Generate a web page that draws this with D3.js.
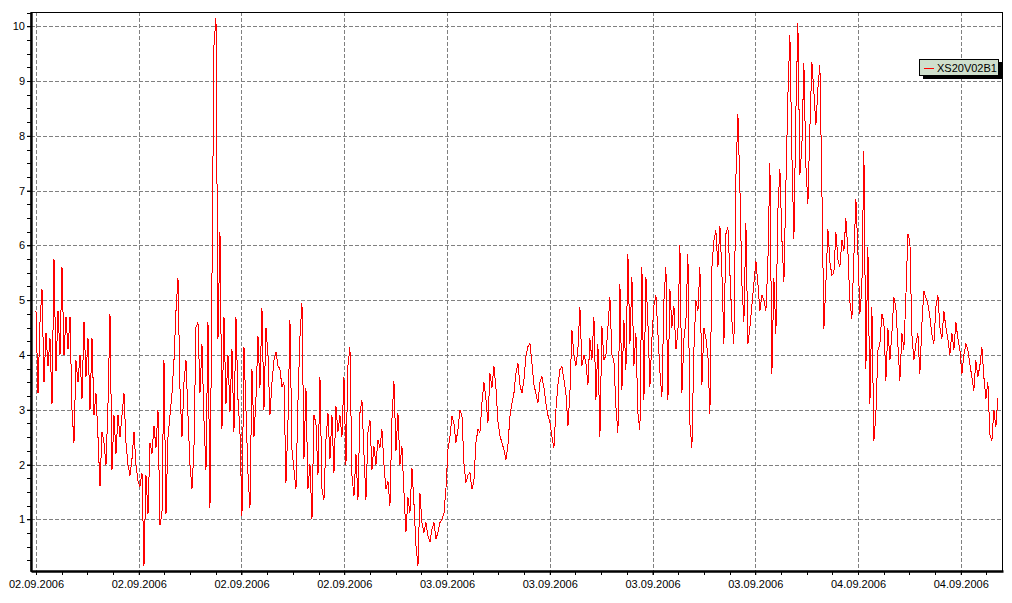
<!DOCTYPE html>
<html>
<head>
<meta charset="utf-8">
<script src="https://d3js.org/d3.v7.min.js"></script>
<style>
  body { margin: 0; background: #fff; }
  svg { display: block; font-family: "Liberation Sans", Arial, sans-serif; }
</style>
</head>
<body>
<script>
(function () {
  "use strict";

  // series, one sample every ~7 minutes
  var seriesName = "XS20V02B1";
  var seriesValues = [
    4.8, 3.3, 4.6, 5.2, 3.5, 4.4, 3.8, 4.3, 3.1, 5.75,
    3.7, 4.8, 4.0, 5.6, 4.0, 4.7, 4.1, 4.7, 3.0, 2.4,
    3.9, 3.5, 4.0, 3.2, 4.6, 3.6, 4.3, 3.0, 4.3, 2.9,
    3.3, 2.5, 1.6, 2.6, 2.4, 2.0, 3.1, 4.75, 1.9, 2.9,
    2.2, 2.9, 2.5, 2.9, 3.3, 2.4, 2.0, 1.8, 2.1, 2.6,
    2.0, 1.7, 1.6, 1.85, 0.15, 1.8, 1.1, 2.4, 2.2, 2.7,
    2.3, 3.0, 0.9, 1.1, 3.9, 1.1, 2.5, 2.9, 3.3, 3.9,
    4.8, 5.4, 3.4, 2.5, 3.5, 3.9, 2.9, 2.0, 1.55, 2.3,
    4.5, 4.6, 3.3, 4.2, 2.8, 1.9, 4.6, 1.2, 5.4, 9.65,
    10.15, 4.3, 6.25, 2.65, 4.7, 3.1, 4.0, 2.95, 4.1, 2.6,
    4.7, 3.2, 2.6, 1.06, 4.15, 3.0, 1.85, 1.2, 3.75, 2.5,
    3.2, 4.35, 3.4, 4.85, 3.0, 4.5, 4.0, 2.9, 3.5, 3.9,
    4.05, 3.8, 3.74, 3.42, 3.5, 1.67, 2.76, 4.64, 2.27, 1.9,
    1.55, 3.15, 4.33, 4.94, 2.1, 3.4, 1.55, 2.0, 1.0, 2.9,
    2.75, 1.8, 3.6, 1.55, 1.36, 2.45, 2.94, 2.1, 2.9, 1.85,
    3.06, 2.6, 2.9, 2.5, 3.6, 2.0, 3.8, 4.15, 1.8, 1.42,
    2.2, 1.36, 2.94, 3.18, 2.2, 1.36, 2.58, 2.82, 1.9, 2.33,
    2.0, 2.45, 2.3, 2.64, 2.0, 1.55, 1.7, 1.24, 2.82, 3.52,
    2.25, 2.94, 2.0, 2.33, 1.5, 0.76, 1.4, 1.12, 1.94, 1.3,
    0.52, 0.15, 1.48, 0.94, 0.76, 0.94, 0.7, 0.58, 0.82, 0.94,
    0.64, 0.76, 0.94, 1.0, 1.1, 1.55, 2.27, 2.5, 2.88, 2.76,
    2.4, 2.64, 3.0, 2.9, 2.03, 1.67, 1.8, 1.85, 1.55, 1.7,
    2.4, 2.64, 2.58, 3.12, 3.5, 3.2, 2.76, 3.67, 3.4, 3.79,
    3.4, 2.79, 2.52, 2.4, 2.27, 2.09, 2.35, 2.88, 3.12, 3.3,
    3.67, 3.85, 3.45, 3.3, 3.55, 3.97, 4.15, 4.21, 3.85, 3.45,
    3.3, 3.12, 3.5, 3.6, 3.4, 3.12, 2.9, 2.76, 2.52, 2.3,
    3.0, 3.45, 3.73, 3.79, 3.55, 3.3, 2.7, 3.3, 4.45, 4.0,
    3.8, 4.1, 4.88, 3.8, 4.0, 3.85, 3.45, 4.3, 3.9, 4.7,
    3.18, 4.2, 2.5, 4.52, 3.9, 4.0, 4.5, 5.06, 4.0, 3.9,
    3.05, 2.57, 5.3, 3.36, 4.63, 3.72, 5.84, 4.2, 5.42, 3.8,
    4.4, 2.93, 2.63, 5.6, 3.17, 5.42, 4.6, 3.42, 4.3, 4.9,
    5.1, 4.4, 3.7, 3.23, 5.0, 5.6, 3.17, 5.2, 4.5, 4.9,
    4.1, 4.4, 6.0, 3.3, 4.3, 4.6, 5.84, 2.75, 2.3, 4.1,
    5.0, 4.8, 5.6, 3.45, 4.5, 4.3, 4.0, 2.93, 5.6, 6.09,
    6.27, 5.6, 6.36, 5.5, 4.2, 6.21, 6.33, 5.5, 4.63, 4.2,
    7.24, 8.4, 7.06, 5.3, 4.6, 6.4, 4.2, 4.5, 4.9, 5.3,
    5.72, 5.3, 4.8, 5.1, 5.0, 4.8, 5.7, 7.5, 3.66, 5.4,
    4.39, 6.64, 7.4, 6.12, 5.33, 7.1, 8.74, 9.84, 7.64, 6.12,
    8.44, 10.05, 7.28, 7.8, 9.32, 7.46, 6.76, 8.13, 9.35, 8.8,
    8.19, 8.86, 9.29, 7.04, 4.48, 5.3, 6.3, 5.7, 5.45, 5.5,
    6.24, 5.75, 5.6, 6.1, 5.9, 6.49, 5.9, 4.97, 4.66, 5.8,
    6.85, 5.9, 4.75, 5.23, 7.73, 3.74, 5.97, 3.1, 4.87, 2.43,
    2.92, 4.08, 4.2, 4.75, 4.6, 3.53, 4.5, 3.9, 4.4, 5.05,
    4.87, 4.2, 3.53, 4.4, 4.1, 5.05, 6.21, 6.09, 4.38, 3.9,
    4.2, 4.4, 3.65, 4.56, 5.17, 5.05, 4.93, 4.7, 4.38, 4.2,
    4.87, 5.1, 4.5, 4.3, 4.8, 4.5, 4.3, 4.0, 4.4, 4.1,
    4.6, 4.3, 4.1, 3.65, 4.0, 4.2, 4.1, 3.83, 3.6, 3.35,
    3.9, 3.6, 3.8, 4.14, 3.6, 3.2, 3.5, 2.55, 2.43, 3.0,
    2.68, 3.22
  ];
  var firstSample = new Date(2006, 8, 2, 0, 0);
  var lastSample = new Date(2006, 8, 4, 8, 10);
  var timeDomain = [new Date(2006, 8, 1, 23, 42, 30), new Date(2006, 8, 4, 8, 28)];
  var valueDomain = [0.056, 10.26];
  var yTickValues = [1, 2, 3, 4, 5, 6, 7, 8, 9, 10];
  var xTickFormat = "%d.%m.%Y";

  var width = 1012, height = 603,
      left = 31, right = 1003, top = 12, bottom = 571;

  var step = (lastSample - firstSample) / (seriesValues.length - 1);
  var data = seriesValues.map(function (v, i) {
    return {t: new Date(+firstSample + i * step), v: v};
  });

  var x = d3.scaleTime().domain(timeDomain).range([left, right]);
  var y = d3.scaleLinear().domain(valueDomain).range([bottom, top]);

  var svg = d3.select('body').append('svg')
      .attr('width', width)
      .attr('height', height);

  var majorTicks = x.ticks(d3.timeHour.every(6));
  var minorTicks = x.ticks(d3.timeMinute.every(30)).filter(function (d) {
    return (d.getHours() * 60 + d.getMinutes()) % 90 === 0;
  });
  var yMinor = d3.range(0.25, 10.26, 0.25);

  // grid
  svg.append('g').selectAll('line')
      .data(yTickValues)
      .enter()
    .append('line')
      .attr('x1', left)
      .attr('x2', right)
      .attr('y1', function (d) { return Math.round(y(d)) + 0.5; })
      .attr('y2', function (d) { return Math.round(y(d)) + 0.5; })
      .attr('stroke', '#808080')
      .attr('stroke-dasharray', '4,2');
  svg.append('g').selectAll('line')
      .data(majorTicks)
      .enter()
    .append('line')
      .attr('x1', function (d) { return Math.round(x(d)) + 0.5; })
      .attr('x2', function (d) { return Math.round(x(d)) + 0.5; })
      .attr('y1', top)
      .attr('y2', bottom)
      .attr('stroke', '#808080')
      .attr('stroke-dasharray', '4,2');

  // series
  var line = d3.line()
      .x(function (d) { return x(d.t); })
      .y(function (d) { return y(d.v); });
  svg.append('path')
      .datum(data)
      .attr('d', line)
      .attr('fill', 'none')
      .attr('stroke', '#ff0000')
      .attr('stroke-width', 1)
      .attr('shape-rendering', 'crispEdges');

  // frame
  svg.append('rect')
      .attr('x', left)
      .attr('y', top + 0.5)
      .attr('width', right - left - 0.5)
      .attr('height', bottom - top)
      .attr('fill', 'none')
      .attr('stroke', '#000');

  // minor ticks
  svg.append('g').selectAll('line')
      .data(yMinor)
      .enter()
    .append('line')
      .attr('x1', left - 4)
      .attr('x2', left)
      .attr('y1', function (d) { return Math.round(y(d)) + 0.5; })
      .attr('y2', function (d) { return Math.round(y(d)) + 0.5; })
      .attr('stroke', '#000');
  svg.append('g').selectAll('line')
      .data(minorTicks)
      .enter()
    .append('line')
      .attr('x1', function (d) { return Math.round(x(d)) + 0.5; })
      .attr('x2', function (d) { return Math.round(x(d)) + 0.5; })
      .attr('y1', bottom)
      .attr('y2', bottom + 4)
      .attr('stroke', '#000');

  // axes
  var yAxis = svg.append('g')
      .attr('transform', 'translate(' + left + ',0)')
      .call(d3.axisLeft(y).tickValues(yTickValues).tickFormat(d3.format('d'))
        .tickSize(4).tickSizeOuter(0).tickPadding(2));
  var xAxis = svg.append('g')
      .attr('transform', 'translate(0,' + bottom + ')')
      .call(d3.axisBottom(x).tickValues(majorTicks).tickFormat(d3.timeFormat(xTickFormat))
        .tickSize(4).tickSizeOuter(0).tickPadding(5));
  [yAxis, xAxis].forEach(function (a) {
    a.select('.domain').attr('stroke-width', 2.4);
    a.selectAll('text').attr('font-size', 11).attr('fill', '#000')
      .attr('font-family', '"Liberation Sans", Arial, sans-serif');
  });

  // legend
  var legend = svg.append('g').attr('transform', 'translate(919,59)');
  legend.append('rect')
      .attr('x', 4).attr('y', 3)
      .attr('width', 80).attr('height', 17)
      .attr('fill', '#000');
  legend.append('rect')
      .attr('x', 0.5).attr('y', 0.5)
      .attr('width', 79).attr('height', 16)
      .attr('fill', '#cfdfcc')
      .attr('stroke', '#000');
  legend.append('line')
      .attr('x1', 5).attr('x2', 15)
      .attr('y1', 9.5).attr('y2', 9.5)
      .attr('stroke', '#ff0000');
  legend.append('text')
      .attr('x', 18).attr('y', 13)
      .attr('font-size', 11)
      .text(seriesName);
}());
</script>
</body>
</html>
